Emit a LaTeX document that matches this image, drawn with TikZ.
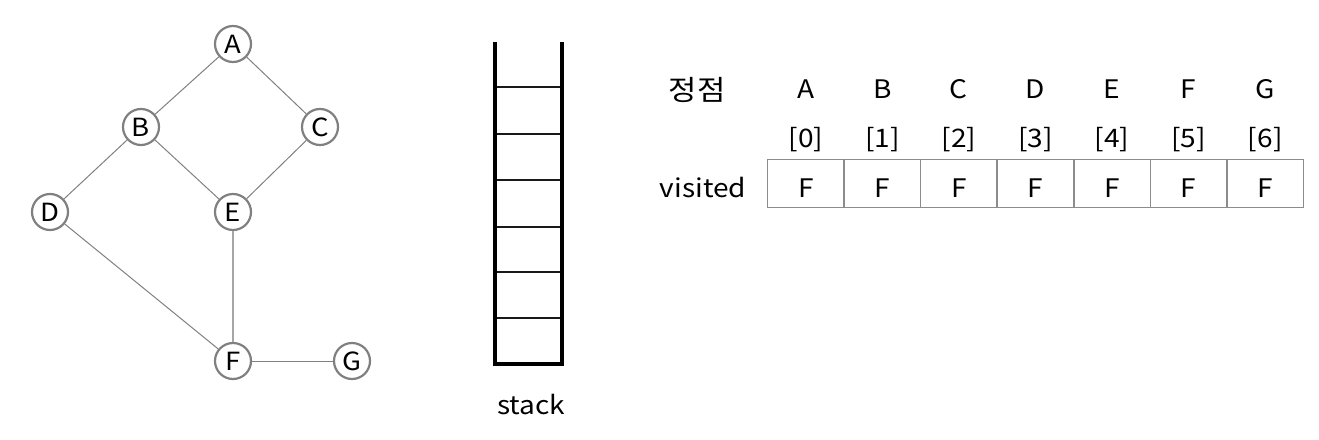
\documentclass[tikz,border=0pt]{standalone}
\usepackage{fontspec}
\setmainfont[FakeStretch=1.1]{Noto Sans CJK KR}
\begin{document}
\begin{tikzpicture}[x=1pt,y=-1pt,
  vert/.style={circle, draw=black!50, line width=2.2pt, minimum size=36pt, inner sep=0pt, fill=white, font=\fontsize{25}{25}\selectfont},
  edge/.style={draw=black!50, line width=1pt},
  stackwall/.style={line width=3.3pt, line join=miter},
  stackline/.style={line width=1.8pt, draw=black!90},
  cell/.style={draw=black!45, line width=1.5pt, minimum width=76.57pt, minimum height=48pt, inner sep=0pt, anchor=center},
  lbl/.style={font=\fontsize{25.5}{25.5}\selectfont, anchor=base, inner sep=0pt},
]
\useasboundingbox (0,0) rectangle (1319,439);
% graph
\node[vert] (A) at (233,44) {A};
\node[vert] (B) at (141,127) {B};
\node[vert] (C) at (320,127) {C};
\node[vert] (D) at (50,212) {D};
\node[vert] (E) at (233,212) {E};
\node[vert] (F) at (233,361) {F};
\node[vert] (G) at (352,361) {G};
\draw[edge] (A) -- (B);
\draw[edge] (A) -- (C);
\draw[edge] (B) -- (D);
\draw[edge] (B) -- (E);
\draw[edge] (C) -- (E);
\draw[edge] (D) -- (F);
\draw[edge, draw=black!35, line width=1.5pt] (E) -- (F);
\draw[edge] (F) -- (G);
% stack
\foreach \y in {87,134,180,227,272,318} {
  \draw[stackline] (495,\y) -- (562,\y);
}
\draw[stackwall] (495,42) -- (495,364) -- (562,364) -- (562,42);
\node[lbl] (stk) at (531,414) {stack};
% table
\node[font=\fontsize{28}{28}\selectfont, anchor=base, inner sep=0pt] (jj) at (697,100) {정점};
\node[lbl] (vis) at (703,197) {visited};
\foreach \l [count=\i from 0] in {A,B,C,D,E,F,G} {
  \pgfmathsetmacro{\cx}{767.5+76.57*(\i+0.5)}
  \node[cell] (c\i) at (\cx,183.5) {};
  \node[lbl] (h\i) at (\cx,98.5) {\l};
  \node[lbl] (n\i) at (\cx,147) {[\i]};
  \node[lbl] (v\i) at (\cx,197) {F};
}
\end{tikzpicture}
\end{document}
